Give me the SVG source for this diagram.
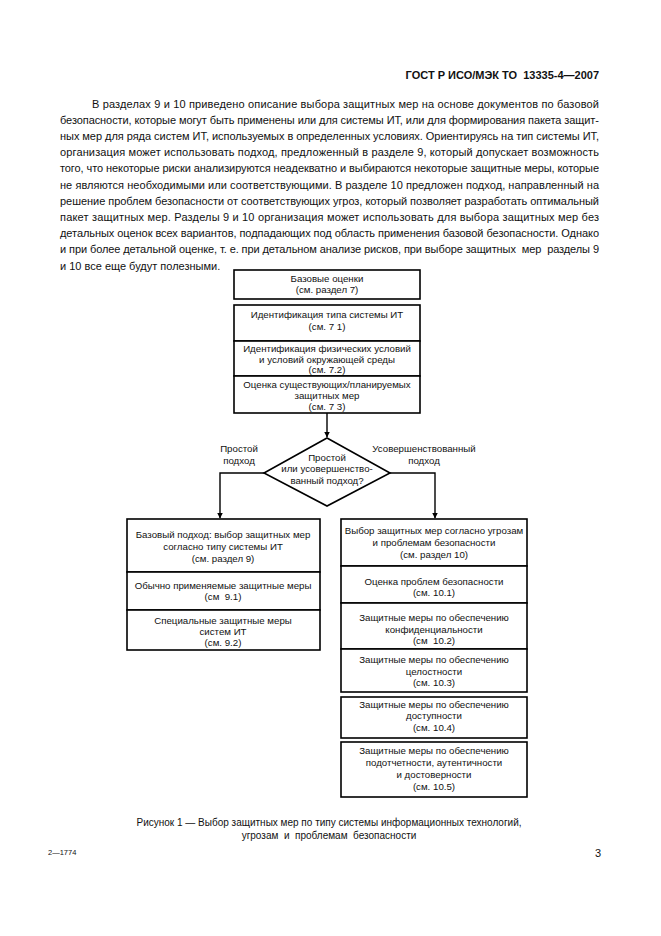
<svg xmlns="http://www.w3.org/2000/svg" width="661" height="936" viewBox="0 0 661 936">
<style>
.pg{font-family:"Liberation Sans",Arial,sans-serif;fill:#111}
.hd{font-size:11px;font-weight:bold}
.p{font-size:11px}
.n{font-size:9.7px;text-anchor:middle}
.cap{font-size:10px;text-anchor:middle}
.box{fill:#fff;stroke:#000;stroke-width:1.6}
.ln{fill:none;stroke:#000;stroke-width:1.4}
</style>
<defs>
<marker id="ah" viewBox="0 0 6 6" refX="5.5" refY="3" markerWidth="6" markerHeight="6" markerUnits="userSpaceOnUse" orient="auto">
<path d="M0,0 L6,3 L0,6 Z" fill="#000"/>
</marker>
</defs>
<rect width="661" height="936" fill="#fff"/>
<g class="pg">
<text class="hd" x="599" y="79" text-anchor="end" xml:space="preserve">ГОСТ Р ИСО/МЭК ТО  13335-4—2007</text>
<g class="p">
<text x="92" y="107.5" textLength="507" lengthAdjust="spacing">В разделах 9 и 10 приведено описание выбора защитных мер на основе документов по базовой</text>
<text x="60" y="123.7" textLength="539" lengthAdjust="spacing">безопасности, которые могут быть применены или для системы ИТ, или для формирования пакета защит-</text>
<text x="60" y="139.9" textLength="539" lengthAdjust="spacing">ных мер для ряда систем ИТ, используемых в определенных условиях. Ориентируясь на тип системы ИТ,</text>
<text x="60" y="156.1" textLength="539" lengthAdjust="spacing">организация может использовать подход, предложенный в разделе 9, который допускает возможность</text>
<text x="60" y="172.3" textLength="539" lengthAdjust="spacing">того, что некоторые риски анализируются неадекватно и выбираются некоторые защитные меры, которые</text>
<text x="60" y="188.5" textLength="539" lengthAdjust="spacing">не являются необходимыми или соответствующими. В разделе 10 предложен подход, направленный на</text>
<text x="60" y="204.7" textLength="539" lengthAdjust="spacing">решение проблем безопасности от соответствующих угроз, который позволяет разработать оптимальный</text>
<text x="60" y="220.9" textLength="539" lengthAdjust="spacing">пакет защитных мер. Разделы 9 и 10 организация может использовать для выбора защитных мер без</text>
<text x="60" y="237.1" textLength="539" lengthAdjust="spacing">детальных оценок всех вариантов, подпадающих под область применения базовой безопасности. Однако</text>
<text x="60" y="253.3" textLength="539" lengthAdjust="spacing" xml:space="preserve">и при более детальной оценке, т. е. при детальном анализе рисков, при выборе защитных  мер  разделы 9</text>
<text x="60" y="269.5">и 10 все еще будут полезными.</text>
</g>
</g>

<g id="connectors">
<line class="ln" x1="327" y1="413" x2="327" y2="437" marker-end="url(#ah)"/>
<polyline class="ln" points="264,473 220,473 220,518" marker-end="url(#ah)"/>
<polyline class="ln" points="390,473 435,473 435,518" marker-end="url(#ah)"/>
<g class="pg n">
<text x="239" y="452">Простой</text>
<text x="239" y="464">подход</text>
<text x="424" y="452">Усовершенствованный</text>
<text x="424" y="464">подход</text>
</g>
</g>

<g id="n_base" class="pg">
<rect class="box" x="234" y="270" width="186" height="29"/>
<text class="n" x="327" y="282">Базовые оценки</text>
<text class="n" x="327" y="293">(см. раздел 7)</text>
</g>
<g id="n_type" class="pg">
<rect class="box" x="234" y="305" width="186" height="36"/>
<text class="n" x="327" y="318">Идентификация типа системы ИТ</text>
<text class="n" x="327" y="330">(см. 7 1)</text>
</g>
<g id="n_phys" class="pg">
<rect class="box" x="234" y="341" width="186" height="35"/>
<text class="n" x="327" y="352">Идентификация физических условий</text>
<text class="n" x="327" y="363">и условий окружающей среды</text>
<text class="n" x="327" y="373">(см. 7.2)</text>
</g>
<g id="n_eval" class="pg">
<rect class="box" x="234" y="376" width="186" height="37"/>
<text class="n" x="327" y="388">Оценка существующих/планируемых</text>
<text class="n" x="327" y="399">защитных мер</text>
<text class="n" x="327" y="410">(см. 7 3)</text>
</g>
<g id="n_decision" class="pg">
<polygon class="box" points="327,438 390,473 327,506 264,473"/>
<text class="n" x="327" y="461">Простой</text>
<text class="n" x="327" y="472">или усовершенство-</text>
<text class="n" x="327" y="484">ванный подход?</text>
</g>

<g id="n_l1" class="pg">
<rect class="box" x="127" y="519" width="193" height="53"/>
<text class="n" x="223" y="538">Базовый подход: выбор защитных мер</text>
<text class="n" x="223" y="550">согласно типу системы ИТ</text>
<text class="n" x="223" y="562">(см. раздел 9)</text>
</g>
<g id="n_l2" class="pg">
<rect class="box" x="127" y="572" width="193" height="38"/>
<text class="n" x="223" y="589">Обычно применяемые защитные меры</text>
<text class="n" x="223" y="600" xml:space="preserve">(см  9.1)</text>
</g>
<g id="n_l3" class="pg">
<rect class="box" x="127" y="610" width="193" height="40"/>
<text class="n" x="223" y="624">Специальные защитные меры</text>
<text class="n" x="223" y="635">систем ИТ</text>
<text class="n" x="223" y="646">(см. 9.2)</text>
</g>

<g id="n_r1" class="pg">
<rect class="box" x="341" y="519" width="186" height="47"/>
<text class="n" x="434" y="534">Выбор защитных мер согласно угрозам</text>
<text class="n" x="434" y="546">и проблемам безопасности</text>
<text class="n" x="434" y="558">(см. раздел 10)</text>
</g>
<g id="n_r2" class="pg">
<rect class="box" x="341" y="566" width="186" height="37"/>
<text class="n" x="434" y="585">Оценка проблем безопасности</text>
<text class="n" x="434" y="596">(см. 10.1)</text>
</g>
<g id="n_r3" class="pg">
<rect class="box" x="341" y="603" width="186" height="46"/>
<text class="n" x="434" y="621">Защитные меры по обеспечению</text>
<text class="n" x="434" y="633">конфиденциальности</text>
<text class="n" x="434" y="644" xml:space="preserve">(см  10.2)</text>
</g>
<g id="n_r4" class="pg">
<rect class="box" x="341" y="649" width="186" height="43"/>
<text class="n" x="434" y="663">Защитные меры по обеспечению</text>
<text class="n" x="434" y="675">целостности</text>
<text class="n" x="434" y="686">(см. 10.3)</text>
</g>
<g id="n_r5" class="pg">
<rect class="box" x="341" y="697" width="186" height="41"/>
<text class="n" x="434" y="708">Защитные меры по обеспечению</text>
<text class="n" x="434" y="719">доступности</text>
<text class="n" x="434" y="731">(см. 10.4)</text>
</g>
<g id="n_r6" class="pg">
<rect class="box" x="341" y="742" width="186" height="55"/>
<text class="n" x="434" y="754">Защитные меры по обеспечению</text>
<text class="n" x="434" y="766">подотчетности, аутентичности</text>
<text class="n" x="434" y="778">и достоверности</text>
<text class="n" x="434" y="790">(см. 10.5)</text>
</g>

<g class="pg">
<text class="cap" x="329" y="826">Рисунок 1 — Выбор защитных мер по типу системы информационных технологий,</text>
<text class="cap" x="329" y="839" xml:space="preserve">угрозам  и  проблемам  безопасности</text>
<text x="48" y="855" font-size="7.5">2—1774</text>
<text x="595" y="857" font-size="11">3</text>
</g>
</svg>
